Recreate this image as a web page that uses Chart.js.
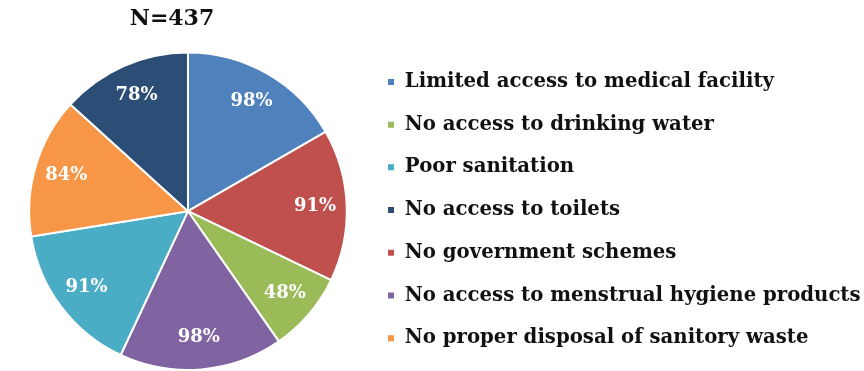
<!DOCTYPE html>
<html>
<head>
<meta charset="utf-8">
<script src="https://cdn.jsdelivr.net/npm/chart.js@4.4.1/dist/chart.umd.min.js"></script>
<style>
  html, body { margin: 0; padding: 0; background: #fff; }
  #wrap { width: 864px; height: 371px; }
</style>
</head>
<body>
<div id="wrap"><canvas id="myChart" width="864" height="371"></canvas></div>
<script>
// slices clockwise from 12 o'clock
const categories = [
  "Limited access to medical facility",
  "No government schemes",
  "No access to drinking water",
  "No access to menstrual hygiene products",
  "Poor sanitation",
  "No proper disposal of sanitory waste",
  "No access to toilets"
];
const percentages = [98, 91, 48, 98, 91, 84, 78];
const sliceColors = ["#4F81BD", "#C0504D", "#9BBB59", "#8064A2", "#4BACC6", "#F79646", "#2C4D75"];
// legend shows the slices in this order
const legendOrder = [0, 2, 4, 6, 1, 3, 5];
const chartTitle = "N=437";

const serif = "'DejaVu Serif', 'Liberation Serif', serif";

const sliceLabels = {
  id: "sliceLabels",
  afterLayout(chart) {
    // title sits a bit left of the pie centre
    if (chart.titleBlock) chart.titleBlock.right -= 32;
  },
  afterDatasetsDraw(chart) {
    const ctx = chart.ctx;
    const meta = chart.getDatasetMeta(0);
    ctx.save();
    ctx.fillStyle = "#fff";
    ctx.font = "bold 18px " + serif;
    ctx.textAlign = "center";
    ctx.textBaseline = "middle";
    meta.data.forEach((arc, i) => {
      const p = arc.getProps(["x", "y", "startAngle", "endAngle", "outerRadius"], true);
      const mid = (p.startAngle + p.endAngle) / 2;
      const r = p.outerRadius * 0.8;
      ctx.fillText(percentages[i] + "%", p.x + Math.cos(mid) * r, p.y + Math.sin(mid) * r);
    });
    ctx.restore();
  }
};

new Chart(document.getElementById("myChart"), {
  type: "pie",
  data: {
    labels: categories,
    datasets: [{
      data: percentages,
      backgroundColor: sliceColors,
      borderColor: "#fff",
      borderWidth: 2,
      hoverOffset: 0
    }]
  },
  options: {
    responsive: false,
    animation: false,
    layout: { padding: { left: 12, bottom: 0, right: 0, top: 0 } },
    plugins: {
      tooltip: { enabled: false },
      title: {
        display: true,
        text: chartTitle,
        fullSize: false,
        color: "#111",
        font: { family: serif, size: 22, weight: "bold" },
        padding: { top: 6, bottom: 19 }
      },
      legend: {
        position: "right",
        align: "end",
        maxWidth: 500,
        labels: {
          boxWidth: 8,
          boxHeight: 8,
          padding: 23,
          color: "#111",
          font: { family: serif, size: 19.7, weight: "bold" },
          sort: (a, b) => legendOrder.indexOf(a.index) - legendOrder.indexOf(b.index)
        }
      }
    }
  },
  plugins: [sliceLabels]
});
</script>
</body>
</html>
